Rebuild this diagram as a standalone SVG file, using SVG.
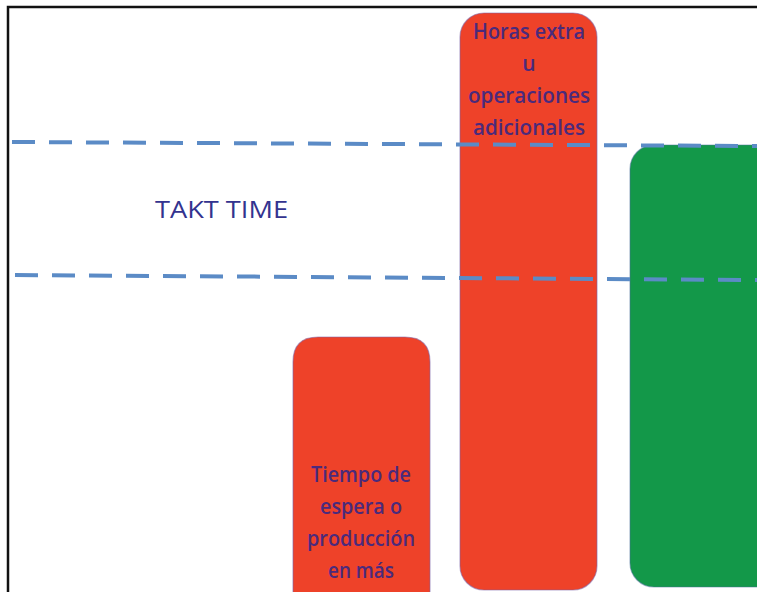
<svg xmlns="http://www.w3.org/2000/svg" width="757" height="592" viewBox="0 0 757 592">
<style>
.bar-r{fill:#ee4229;stroke:#7e64a8;stroke-opacity:.55;stroke-width:1.2}
.bar-g{fill:#139849;stroke:#4a6f9a;stroke-opacity:.5;stroke-width:1.2}
.lbl{font-family:"Open Sans","Noto Sans",sans-serif;font-size:21px;font-weight:600;fill:#4a2a7c;text-anchor:middle}
.dash{stroke:#5b8bc6;stroke-width:4;stroke-dasharray:23 14;fill:none}
</style>
<rect width="757" height="592" fill="#ffffff"/>
<path d="M8 592 V7 H757" fill="none" stroke="#111" stroke-width="2.5"/>
<g id="bar-espera">
<path class="bar-r" d="M293 600 V362 Q293 337 318 337 H405 Q430 337 430 362 V600 Z"/>
<text class="lbl" x="361" y="482" textLength="100" lengthAdjust="spacingAndGlyphs">Tiempo de</text>
<text class="lbl" x="361" y="514" textLength="82" lengthAdjust="spacingAndGlyphs">espera o</text>
<text class="lbl" x="361" y="546" textLength="108" lengthAdjust="spacingAndGlyphs">producción</text>
<text class="lbl" x="361" y="578" textLength="66" lengthAdjust="spacingAndGlyphs">en más</text>
</g>
<g id="bar-horas">
<rect class="bar-r" x="460" y="13" width="137" height="577" rx="24" ry="24"/>
<text class="lbl" x="529" y="39" textLength="112" lengthAdjust="spacingAndGlyphs">Horas extra</text>
<text class="lbl" x="529" y="71">u</text>
<text class="lbl" x="529" y="103" textLength="122" lengthAdjust="spacingAndGlyphs">operaciones</text>
<text class="lbl" x="529" y="135" textLength="112" lengthAdjust="spacingAndGlyphs">adicionales</text>
</g>
<g id="bar-green">
<rect class="bar-g" x="630" y="145" width="160" height="442" rx="24" ry="24"/>
</g>
<g id="connectors">
<line class="dash" x1="12" y1="142" x2="757" y2="146"/>
<line class="dash" x1="15" y1="275" x2="757" y2="280"/>
</g>
<g id="takt-label">
<text x="155" y="218" font-family="Open Sans, Noto Sans, sans-serif" font-size="23" fill="#33338f" textLength="133" lengthAdjust="spacingAndGlyphs">TAKT TIME</text>
</g>
</svg>
